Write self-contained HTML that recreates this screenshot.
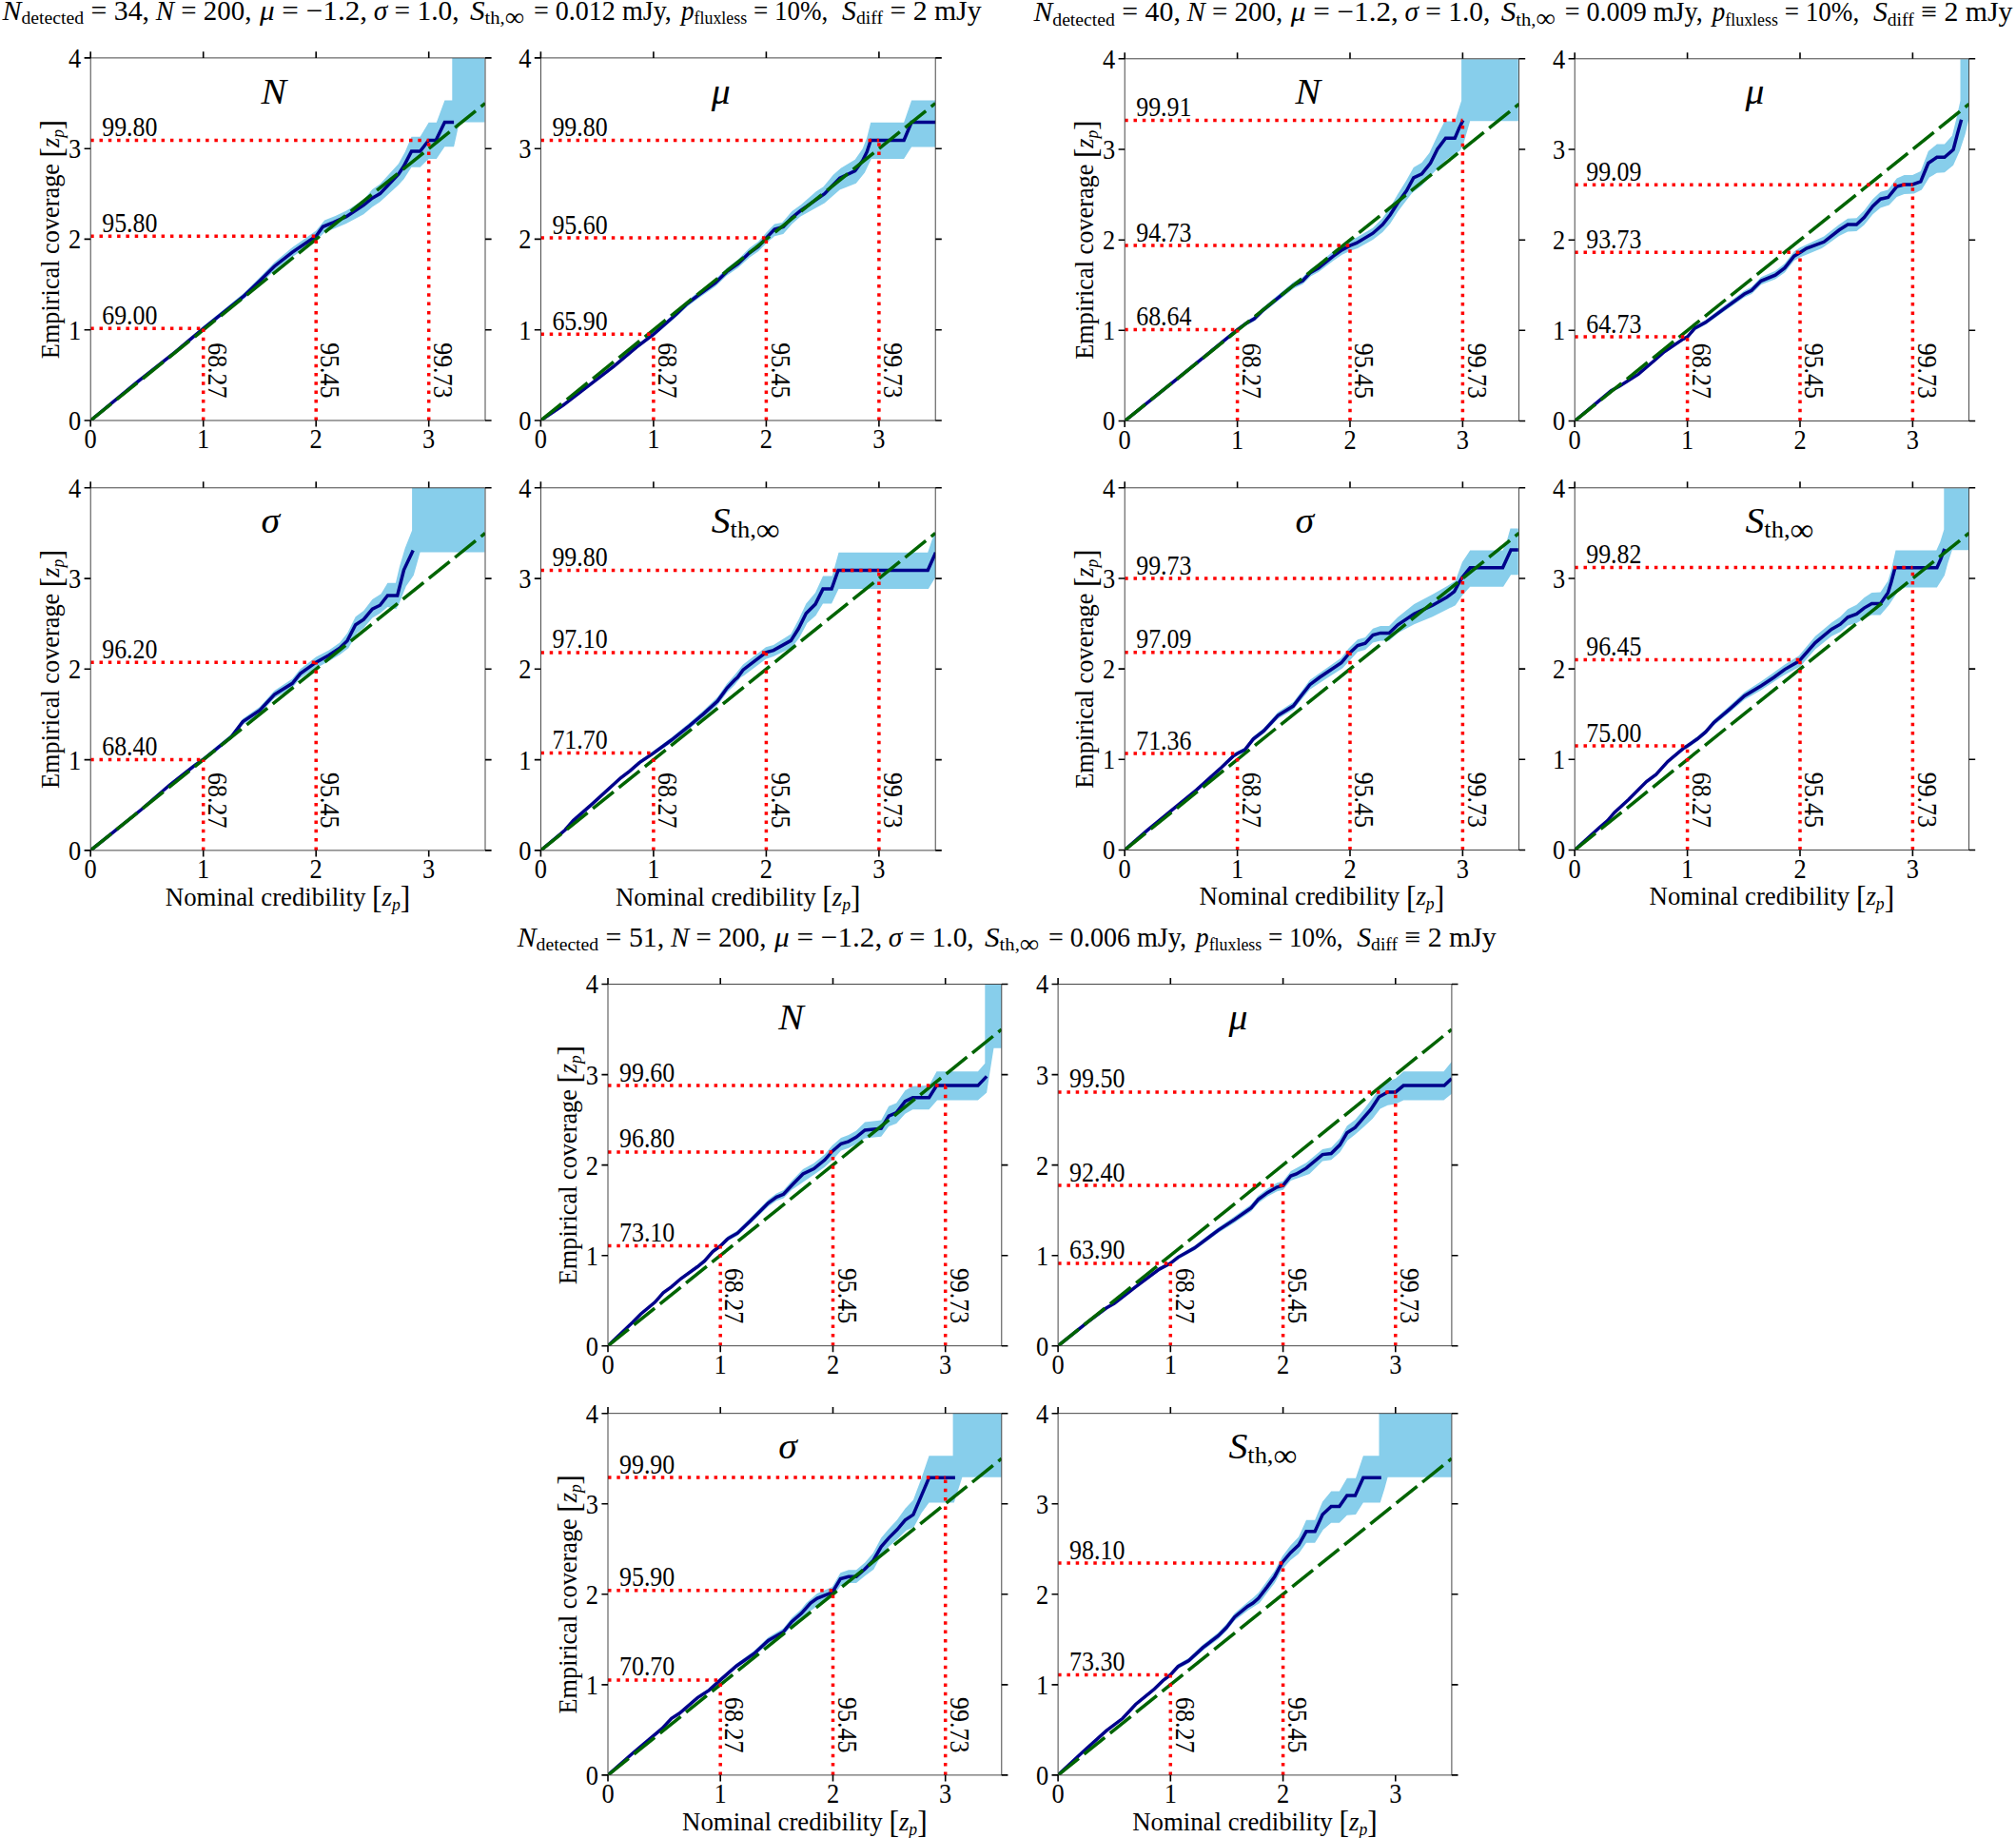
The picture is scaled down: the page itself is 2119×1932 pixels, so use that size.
<!DOCTYPE html>
<html><head><meta charset="utf-8"><title>Coverage plots</title>
<style>html,body{margin:0;padding:0;background:#fff}svg{display:block}text{font-family:"Liberation Serif", "DejaVu Serif", serif;fill:#000}.tk{font-size:29.3px}.an{font-size:28.8px}.ax{font-size:28px}.pt{font-size:37.5px}.tt{font-size:29.5px}.br{font-size:118%}.sb2{font-size:25px}.inf{font-size:33px}.i{font-style:italic}.sb{font-size:66%}.band{fill:#87CEEB;stroke:none}.bl{fill:none;stroke:#00008B;stroke-width:3.5;stroke-linejoin:miter}.gd{fill:none;stroke:#006400;stroke-width:3.5;stroke-dasharray:28 7.1}.rd{fill:none;stroke:#FF0000;stroke-width:3.5;stroke-dasharray:3.5 5.8}.sp{fill:none;stroke:#333;stroke-width:0.9}.t{stroke:#000;stroke-width:1.6}</style></head><body>
<svg width="2119" height="1932" viewBox="0 0 2119 1932">
<rect width="2119" height="1932" fill="#fff"/>
<g><text class="tt" x="2.6" y="20.8" textLength="154.5" lengthAdjust="spacingAndGlyphs" xml:space="preserve"><tspan class="i">N</tspan><tspan class="sb" dy="4.6">detected</tspan><tspan dy="-4.6"> = 34,</tspan></text><text class="tt" x="163.8" y="20.8" textLength="100.6" lengthAdjust="spacingAndGlyphs" xml:space="preserve"><tspan class="i">N</tspan> = 200,</text><text class="tt" x="272.9" y="20.8" textLength="113.2" lengthAdjust="spacingAndGlyphs" xml:space="preserve"><tspan class="i">μ</tspan> = −1.2,</text><text class="tt" x="392.7" y="20.8" textLength="89.9" lengthAdjust="spacingAndGlyphs" xml:space="preserve"><tspan class="i">σ</tspan> = 1.0,</text><text class="tt" x="493.9" y="20.8" textLength="57.2" lengthAdjust="spacingAndGlyphs" xml:space="preserve"><tspan class="i">S</tspan><tspan class="sb" dy="4.6">th,</tspan><tspan style="font-size:27px" dy="1.5">∞</tspan></text><text class="tt" x="560.9" y="20.8" textLength="145" lengthAdjust="spacingAndGlyphs" xml:space="preserve">= 0.012 mJy,</text><text class="tt" x="716" y="20.8" textLength="154.4" lengthAdjust="spacingAndGlyphs" xml:space="preserve"><tspan class="i">p</tspan><tspan class="sb" dy="4.6">fluxless</tspan><tspan dy="-4.6"> = 10%,</tspan></text><text class="tt" x="885.1" y="20.8" textLength="146.5" lengthAdjust="spacingAndGlyphs" xml:space="preserve"><tspan class="i">S</tspan><tspan class="sb" dy="4.6">diff</tspan><tspan dy="-4.6"> = 2 mJy</tspan></text></g>
<g><text class="tt" x="1086.4" y="22" textLength="154.5" lengthAdjust="spacingAndGlyphs" xml:space="preserve"><tspan class="i">N</tspan><tspan class="sb" dy="4.6">detected</tspan><tspan dy="-4.6"> = 40,</tspan></text><text class="tt" x="1247.6" y="22" textLength="100.6" lengthAdjust="spacingAndGlyphs" xml:space="preserve"><tspan class="i">N</tspan> = 200,</text><text class="tt" x="1356.7" y="22" textLength="113.2" lengthAdjust="spacingAndGlyphs" xml:space="preserve"><tspan class="i">μ</tspan> = −1.2,</text><text class="tt" x="1476.5" y="22" textLength="89.9" lengthAdjust="spacingAndGlyphs" xml:space="preserve"><tspan class="i">σ</tspan> = 1.0,</text><text class="tt" x="1577.7" y="22" textLength="57.2" lengthAdjust="spacingAndGlyphs" xml:space="preserve"><tspan class="i">S</tspan><tspan class="sb" dy="4.6">th,</tspan><tspan style="font-size:27px" dy="1.5">∞</tspan></text><text class="tt" x="1644.7" y="22" textLength="145" lengthAdjust="spacingAndGlyphs" xml:space="preserve">= 0.009 mJy,</text><text class="tt" x="1799.8" y="22" textLength="154.4" lengthAdjust="spacingAndGlyphs" xml:space="preserve"><tspan class="i">p</tspan><tspan class="sb" dy="4.6">fluxless</tspan><tspan dy="-4.6"> = 10%,</tspan></text><text class="tt" x="1968.9" y="22" textLength="146.5" lengthAdjust="spacingAndGlyphs" xml:space="preserve"><tspan class="i">S</tspan><tspan class="sb" dy="4.6">diff</tspan><tspan dy="-4.6"> ≡ 2 mJy</tspan></text></g>
<g><text class="tt" x="543.7" y="994.5" textLength="154.5" lengthAdjust="spacingAndGlyphs" xml:space="preserve"><tspan class="i">N</tspan><tspan class="sb" dy="4.6">detected</tspan><tspan dy="-4.6"> = 51,</tspan></text><text class="tt" x="704.9" y="994.5" textLength="100.6" lengthAdjust="spacingAndGlyphs" xml:space="preserve"><tspan class="i">N</tspan> = 200,</text><text class="tt" x="814" y="994.5" textLength="113.2" lengthAdjust="spacingAndGlyphs" xml:space="preserve"><tspan class="i">μ</tspan> = −1.2,</text><text class="tt" x="933.8" y="994.5" textLength="89.9" lengthAdjust="spacingAndGlyphs" xml:space="preserve"><tspan class="i">σ</tspan> = 1.0,</text><text class="tt" x="1035" y="994.5" textLength="57.2" lengthAdjust="spacingAndGlyphs" xml:space="preserve"><tspan class="i">S</tspan><tspan class="sb" dy="4.6">th,</tspan><tspan style="font-size:27px" dy="1.5">∞</tspan></text><text class="tt" x="1102" y="994.5" textLength="145" lengthAdjust="spacingAndGlyphs" xml:space="preserve">= 0.006 mJy,</text><text class="tt" x="1257.1" y="994.5" textLength="154.4" lengthAdjust="spacingAndGlyphs" xml:space="preserve"><tspan class="i">p</tspan><tspan class="sb" dy="4.6">fluxless</tspan><tspan dy="-4.6"> = 10%,</tspan></text><text class="tt" x="1426.2" y="994.5" textLength="146.5" lengthAdjust="spacingAndGlyphs" xml:space="preserve"><tspan class="i">S</tspan><tspan class="sb" dy="4.6">diff</tspan><tspan dy="-4.6"> ≡ 2 mJy</tspan></text></g>
<g id="p1">
<clipPath id="c1"><rect x="95.2" y="60.9" width="414.8" height="381.1"/></clipPath>
<g clip-path="url(#c1)">
<polygon class="band" points="95.2,442 142.6,401.9 184.1,368.6 199.5,355.3 213.7,343.1 256.4,308 273,291.6 288.4,275.7 307.3,260.1 332.2,242.6 341.1,231.6 352.5,227.1 364,221.4 382.2,209.9 391.4,199.1 399.4,193.4 418.8,172.2 425.7,159.7 432.5,143.7 441.6,143.7 450.6,128.8 458.8,128.8 467.4,105.6 475.3,105.6 475.3,60.9 509.4,60.9 509.4,128.5 482.8,128.5 477.1,154.2 467.4,154.2 458.8,167.1 450.6,167.1 441.6,175.7 432.5,175.7 424.5,188.2 418.8,194.5 399.4,212.2 391.4,217.4 382.2,225.3 364,235.1 350.3,240.8 341.1,244.2 334.3,251.1 332.2,253.8 307.3,270 288.4,284.4 273,299 256.4,314.2 213.7,347.5 199.5,359.1 184.1,371.6 142.6,403.9 95.2,442"/>
<polyline class="bl" points="95.2,442 142.6,402.9 184.1,370.1 199.5,357.2 213.7,345.3 256.4,311.1 273,295.3 288.4,280 307.3,265.1 332.2,248.2 339.4,238.3 350.3,233.9 364,227.6 382.2,215.6 391.4,208.2 399.4,203.6 418.8,183.1 424.5,174.5 432.5,159.1 441.6,159.1 450.6,147.4 458.2,147.4 467.4,128.5 477.1,128.5"/>
<path class="gd" d="M95.2 442L510 108.5"/>
<path class="rd" d="M95.2 345.3H213.7M213.7 442V345.3"/>
<path class="rd" d="M95.2 248.3H332.2M332.2 442V248.3"/>
<path class="rd" d="M95.2 147.6H450.7M450.7 442V147.6"/>
</g>
<rect class="sp" x="95.2" y="60.9" width="414.8" height="381.1"/>
<path class="t" d="M95.2 442v6.6M95.2 60.9v-6.6M213.7 442v6.6M213.7 60.9v-6.6M332.2 442v6.6M332.2 60.9v-6.6M450.7 442v6.6M450.7 60.9v-6.6M95.2 442h-6.6M510 442h6.6M95.2 346.7h-6.6M510 346.7h6.6M95.2 251.4h-6.6M510 251.4h6.6M95.2 156.2h-6.6M510 156.2h6.6M95.2 60.9h-6.6M510 60.9h6.6"/>
<text class="tk" text-anchor="middle" transform="translate(95.2 471.2) scale(0.9 1)">0</text>
<text class="tk" text-anchor="middle" transform="translate(213.7 471.2) scale(0.9 1)">1</text>
<text class="tk" text-anchor="middle" transform="translate(332.2 471.2) scale(0.9 1)">2</text>
<text class="tk" text-anchor="middle" transform="translate(450.7 471.2) scale(0.9 1)">3</text>
<text class="tk" text-anchor="end" transform="translate(85.2 451.9) scale(0.9 1)">0</text>
<text class="tk" text-anchor="end" transform="translate(85.2 356.6) scale(0.9 1)">1</text>
<text class="tk" text-anchor="end" transform="translate(85.2 261.3) scale(0.9 1)">2</text>
<text class="tk" text-anchor="end" transform="translate(85.2 166.1) scale(0.9 1)">3</text>
<text class="tk" text-anchor="end" transform="translate(85.2 70.8) scale(0.9 1)">4</text>
<text class="an" transform="translate(107.2 340.8) scale(0.9 1)">69.00</text>
<text class="an" transform="translate(218.9 360.2) rotate(90) scale(0.9 1)">68.27</text>
<text class="an" transform="translate(107.2 243.8) scale(0.9 1)">95.80</text>
<text class="an" transform="translate(337.4 360.2) rotate(90) scale(0.9 1)">95.45</text>
<text class="an" transform="translate(107.2 143.1) scale(0.9 1)">99.80</text>
<text class="an" transform="translate(455.9 360.2) rotate(90) scale(0.9 1)">99.73</text>
<text class="pt i" transform="translate(274.5 108.5) scale(1.06 1)">N</text>
<text class="ax" text-anchor="middle" textLength="251.4" lengthAdjust="spacingAndGlyphs" transform="translate(62.2 251.5) rotate(-90)">Empirical coverage <tspan class="br" dy="2.6">[</tspan><tspan class="i" dy="-2.6">z</tspan><tspan class="i sb" dy="5">p</tspan><tspan class="br" dy="-2.4">]</tspan></text>
</g>
<g id="p2">
<clipPath id="c2"><rect x="568.4" y="60.9" width="414.8" height="381.1"/></clipPath>
<g clip-path="url(#c2)">
<polygon class="band" points="568.4,442 592.1,425.1 615.8,406.5 645.4,383.3 669.1,363 686.9,349.1 710.6,327.8 722.5,316 734.3,306.6 752.1,293.5 763.9,281.7 775.8,272.7 787.7,260.8 797.1,253.9 805.4,244.5 814.1,235.6 822.1,233.9 832.4,221.9 841.5,215.6 857.5,201.4 865.5,196.2 875.8,183.7 883.8,176.8 898.7,167.7 906.7,156.2 911.2,144.8 915.2,128.8 950.1,128.8 958.1,105.4 983.5,105.4 983.5,154.5 958.1,154.5 950.1,167.1 915.8,167.1 908.9,181.4 899.8,192.8 882.7,199.6 866.7,213.4 841.5,227.6 832.4,235.6 823.3,245.9 814.1,248.2 805.4,255.7 797.1,264.3 787.7,270.7 775.8,281.6 763.9,289.8 752.1,300.9 734.3,313.5 722.5,322.2 710.6,333.3 686.9,353.5 669.1,366.7 645.4,386.3 615.8,408.9 592.1,426.5 568.4,442"/>
<polyline class="bl" points="568.4,442 592.1,425.8 615.8,407.7 645.4,384.8 669.1,364.8 686.9,351.3 710.6,330.5 722.5,319.1 734.3,310 752.1,297.2 763.9,285.7 775.8,277.2 787.7,265.7 797.1,259.1 805.4,250.1 814.1,241 823.3,238.5 832.4,228.8 841.5,221.4 866.7,203.6 882.7,187.1 898.7,179.7 906.7,168.8 911.2,159.7 915.2,147.4 950.1,147.4 958.1,128.5 983.5,128.5"/>
<path class="gd" d="M568.4 442L983.2 108.5"/>
<path class="rd" d="M568.4 351.3H686.9M686.9 442V351.3"/>
<path class="rd" d="M568.4 250.1H805.4M805.4 442V250.1"/>
<path class="rd" d="M568.4 147.6H923.9M923.9 442V147.6"/>
</g>
<rect class="sp" x="568.4" y="60.9" width="414.8" height="381.1"/>
<path class="t" d="M568.4 442v6.6M568.4 60.9v-6.6M686.9 442v6.6M686.9 60.9v-6.6M805.4 442v6.6M805.4 60.9v-6.6M923.9 442v6.6M923.9 60.9v-6.6M568.4 442h-6.6M983.2 442h6.6M568.4 346.7h-6.6M983.2 346.7h6.6M568.4 251.4h-6.6M983.2 251.4h6.6M568.4 156.2h-6.6M983.2 156.2h6.6M568.4 60.9h-6.6M983.2 60.9h6.6"/>
<text class="tk" text-anchor="middle" transform="translate(568.4 471.2) scale(0.9 1)">0</text>
<text class="tk" text-anchor="middle" transform="translate(686.9 471.2) scale(0.9 1)">1</text>
<text class="tk" text-anchor="middle" transform="translate(805.4 471.2) scale(0.9 1)">2</text>
<text class="tk" text-anchor="middle" transform="translate(923.9 471.2) scale(0.9 1)">3</text>
<text class="tk" text-anchor="end" transform="translate(558.4 451.9) scale(0.9 1)">0</text>
<text class="tk" text-anchor="end" transform="translate(558.4 356.6) scale(0.9 1)">1</text>
<text class="tk" text-anchor="end" transform="translate(558.4 261.3) scale(0.9 1)">2</text>
<text class="tk" text-anchor="end" transform="translate(558.4 166.1) scale(0.9 1)">3</text>
<text class="tk" text-anchor="end" transform="translate(558.4 70.8) scale(0.9 1)">4</text>
<text class="an" transform="translate(580.4 346.8) scale(0.9 1)">65.90</text>
<text class="an" transform="translate(692.1 360.2) rotate(90) scale(0.9 1)">68.27</text>
<text class="an" transform="translate(580.4 245.6) scale(0.9 1)">95.60</text>
<text class="an" transform="translate(810.6 360.2) rotate(90) scale(0.9 1)">95.45</text>
<text class="an" transform="translate(580.4 143.1) scale(0.9 1)">99.80</text>
<text class="an" transform="translate(929.1 360.2) rotate(90) scale(0.9 1)">99.73</text>
<text class="pt i" transform="translate(747.7 108.5) scale(1.06 1)">μ</text>
</g>
<g id="p3">
<clipPath id="c3"><rect x="95.2" y="512.8" width="414.8" height="381.1"/></clipPath>
<g clip-path="url(#c3)">
<polygon class="band" points="95.2,893.9 118.9,874.2 148.5,849.8 178.2,823.8 195.9,809.6 204.2,802.8 213.7,796.1 243.3,771.6 255.2,755.5 273,743 288.4,725.9 307.3,713.6 315.6,703.2 332.2,690.6 345.7,683.6 357.1,675.6 365.1,665.4 373.7,648.2 382.2,641.9 391.4,629.9 400.5,624.2 407.4,612.8 415.9,612.8 419.9,595.7 425.7,576.3 433.1,557.4 433.1,512.6 509.4,512.6 509.4,580.5 441.6,580.5 434.8,604.8 426.8,616.2 419.9,633.4 416.5,640.2 407.4,637.9 399.4,644.8 391.4,649.4 382.2,660.2 375.4,665.4 366.3,681.3 357.1,688.2 345.7,695.1 334.3,701.3 332.2,701.8 315.6,713.1 307.3,723 288.4,734.1 273,750.4 255.2,761.7 243.3,777.1 213.7,800.6 204.2,806.8 195.9,813.3 178.2,826.8 148.5,852.3 118.9,875.5 95.2,893.9"/>
<polyline class="bl" points="95.2,893.9 118.9,874.8 148.5,851 178.2,825.3 195.9,811.5 204.2,804.8 213.7,798.3 243.3,774.3 255.2,758.6 273,746.7 288.4,730 307.3,718.3 315.6,708.1 332.2,696.2 345.7,688.8 357.1,681.3 365.1,673.4 373.7,656.8 382.2,651.1 391.4,640.2 399.4,636.2 407.4,625.9 417.7,625.9 424.5,599.1 434.2,578.5"/>
<path class="gd" d="M95.2 893.9L510 560.4"/>
<path class="rd" d="M95.2 798.4H213.7M213.7 893.9V798.4"/>
<path class="rd" d="M95.2 696.2H332.2M332.2 893.9V696.2"/>
</g>
<rect class="sp" x="95.2" y="512.8" width="414.8" height="381.1"/>
<path class="t" d="M95.2 893.9v6.6M95.2 512.8v-6.6M213.7 893.9v6.6M213.7 512.8v-6.6M332.2 893.9v6.6M332.2 512.8v-6.6M450.7 893.9v6.6M450.7 512.8v-6.6M95.2 893.9h-6.6M510 893.9h6.6M95.2 798.6h-6.6M510 798.6h6.6M95.2 703.3h-6.6M510 703.3h6.6M95.2 608.1h-6.6M510 608.1h6.6M95.2 512.8h-6.6M510 512.8h6.6"/>
<text class="tk" text-anchor="middle" transform="translate(95.2 923.1) scale(0.9 1)">0</text>
<text class="tk" text-anchor="middle" transform="translate(213.7 923.1) scale(0.9 1)">1</text>
<text class="tk" text-anchor="middle" transform="translate(332.2 923.1) scale(0.9 1)">2</text>
<text class="tk" text-anchor="middle" transform="translate(450.7 923.1) scale(0.9 1)">3</text>
<text class="tk" text-anchor="end" transform="translate(85.2 903.8) scale(0.9 1)">0</text>
<text class="tk" text-anchor="end" transform="translate(85.2 808.5) scale(0.9 1)">1</text>
<text class="tk" text-anchor="end" transform="translate(85.2 713.2) scale(0.9 1)">2</text>
<text class="tk" text-anchor="end" transform="translate(85.2 618) scale(0.9 1)">3</text>
<text class="tk" text-anchor="end" transform="translate(85.2 522.7) scale(0.9 1)">4</text>
<text class="an" transform="translate(107.2 793.9) scale(0.9 1)">68.40</text>
<text class="an" transform="translate(218.9 812.1) rotate(90) scale(0.9 1)">68.27</text>
<text class="an" transform="translate(107.2 691.7) scale(0.9 1)">96.20</text>
<text class="an" transform="translate(337.4 812.1) rotate(90) scale(0.9 1)">95.45</text>
<text class="pt i" transform="translate(274.5 560.4) scale(1.06 1)">σ</text>
<text class="ax" text-anchor="middle" textLength="251.4" lengthAdjust="spacingAndGlyphs" transform="translate(62.2 703.3) rotate(-90)">Empirical coverage <tspan class="br" dy="2.6">[</tspan><tspan class="i" dy="-2.6">z</tspan><tspan class="i sb" dy="5">p</tspan><tspan class="br" dy="-2.4">]</tspan></text>
<text class="ax" text-anchor="middle" textLength="257.6" lengthAdjust="spacingAndGlyphs" x="302.6" y="951.5">Nominal credibility <tspan class="br" dy="2.6">[</tspan><tspan class="i" dy="-2.6">z</tspan><tspan class="i sb" dy="5">p</tspan><tspan class="br" dy="-2.4">]</tspan></text>
</g>
<g id="p4">
<clipPath id="c4"><rect x="568.4" y="512.8" width="414.8" height="381.1"/></clipPath>
<g clip-path="url(#c4)">
<polygon class="band" points="568.4,893.9 593.9,871.7 602.5,861.6 622.4,843.9 652.3,816 662.1,808.5 672.1,799.6 686.9,789.3 705.6,775.2 724.4,759.9 739.2,746.9 754.1,732.8 764.1,718.6 772.2,709.6 781,698.5 805,680.2 813,677.9 831.3,666.5 839.3,651.6 847.3,634.5 857,623.1 865,605.4 874.7,605.4 881.5,580.8 975.2,580.8 979.8,567.1 983.5,559.1 983.5,606.5 975.8,619.1 881.5,619.1 874.1,634.5 865,634.5 857.5,647.1 848.4,655.1 840.4,669.9 832.4,680.8 813,689.9 805,692.8 782.1,709.9 778.7,712 772.2,720 764.1,728 754.1,741.2 739.2,754.3 724.4,766.3 705.6,780.7 686.9,793.8 672.1,803.6 662.1,812.2 652.3,819.5 622.4,846.4 602.5,863.5 593.9,873.2 568.4,893.9"/>
<polyline class="bl" points="568.4,893.9 593.9,872.5 602.5,862.6 622.4,845.1 652.3,817.8 662.1,810.3 672.1,801.6 686.9,791.6 705.6,778 724.4,763.1 739.2,750.6 754.1,737 764.1,723.3 772.2,714.8 775.3,712 781,704.2 805,685.9 813,683.6 831.3,673.4 839.3,660.8 847.3,644.8 857,635.1 865,619.1 874.1,619.1 881,599.4 975.2,599.4 983.5,580.8"/>
<path class="gd" d="M568.4 893.9L983.2 560.4"/>
<path class="rd" d="M568.4 791.6H686.9M686.9 893.9V791.6"/>
<path class="rd" d="M568.4 685.9H805.4M805.4 893.9V685.9"/>
<path class="rd" d="M568.4 599.5H923.9M923.9 893.9V599.5"/>
</g>
<rect class="sp" x="568.4" y="512.8" width="414.8" height="381.1"/>
<path class="t" d="M568.4 893.9v6.6M568.4 512.8v-6.6M686.9 893.9v6.6M686.9 512.8v-6.6M805.4 893.9v6.6M805.4 512.8v-6.6M923.9 893.9v6.6M923.9 512.8v-6.6M568.4 893.9h-6.6M983.2 893.9h6.6M568.4 798.6h-6.6M983.2 798.6h6.6M568.4 703.3h-6.6M983.2 703.3h6.6M568.4 608.1h-6.6M983.2 608.1h6.6M568.4 512.8h-6.6M983.2 512.8h6.6"/>
<text class="tk" text-anchor="middle" transform="translate(568.4 923.1) scale(0.9 1)">0</text>
<text class="tk" text-anchor="middle" transform="translate(686.9 923.1) scale(0.9 1)">1</text>
<text class="tk" text-anchor="middle" transform="translate(805.4 923.1) scale(0.9 1)">2</text>
<text class="tk" text-anchor="middle" transform="translate(923.9 923.1) scale(0.9 1)">3</text>
<text class="tk" text-anchor="end" transform="translate(558.4 903.8) scale(0.9 1)">0</text>
<text class="tk" text-anchor="end" transform="translate(558.4 808.5) scale(0.9 1)">1</text>
<text class="tk" text-anchor="end" transform="translate(558.4 713.2) scale(0.9 1)">2</text>
<text class="tk" text-anchor="end" transform="translate(558.4 618) scale(0.9 1)">3</text>
<text class="tk" text-anchor="end" transform="translate(558.4 522.7) scale(0.9 1)">4</text>
<text class="an" transform="translate(580.4 787.1) scale(0.9 1)">71.70</text>
<text class="an" transform="translate(692.1 812.1) rotate(90) scale(0.9 1)">68.27</text>
<text class="an" transform="translate(580.4 681.4) scale(0.9 1)">97.10</text>
<text class="an" transform="translate(810.6 812.1) rotate(90) scale(0.9 1)">95.45</text>
<text class="an" transform="translate(580.4 595) scale(0.9 1)">99.80</text>
<text class="an" transform="translate(929.1 812.1) rotate(90) scale(0.9 1)">99.73</text>
<text class="pt" transform="translate(747.7 560.4) scale(1.06 1)"><tspan class="i">S</tspan><tspan class="sb2" dy="4.8">th,</tspan><tspan class="inf" dy="2.5">∞</tspan></text>
<text class="ax" text-anchor="middle" textLength="257.6" lengthAdjust="spacingAndGlyphs" x="775.8" y="951.5">Nominal credibility <tspan class="br" dy="2.6">[</tspan><tspan class="i" dy="-2.6">z</tspan><tspan class="i sb" dy="5">p</tspan><tspan class="br" dy="-2.4">]</tspan></text>
</g>
<g id="p5">
<clipPath id="c5"><rect x="1182.2" y="61.8" width="414.4" height="380.7"/></clipPath>
<g clip-path="url(#c5)">
<polygon class="band" points="1182.2,442.5 1241.4,393.9 1300.6,344.6 1310.1,337.5 1318.4,332.5 1326.6,324.1 1359.8,296.3 1369.3,291.3 1377.6,282.5 1385.8,277.3 1401.2,264.3 1410.7,257.4 1419,252.6 1425.8,249.8 1443,239.5 1453.3,229.2 1461.3,217.8 1469.2,204.1 1478.4,189.2 1485.8,176.1 1494.4,170.9 1502.4,160.7 1510.9,142.4 1518.4,127.5 1529.2,127.5 1536.1,105.8 1536.1,62.2 1595.8,62.2 1595.8,127.2 1545.2,127.2 1537.8,152.7 1534.4,158.4 1520.7,167.5 1505.8,182.4 1494.4,194.9 1484.1,202.9 1469.2,222.4 1461.3,234.9 1453.3,244.1 1443,252.1 1432.7,257.8 1427,261 1419,263.7 1410.7,267.8 1401.2,274.2 1385.8,286 1377.6,290.4 1369.3,298.7 1359.8,303.2 1326.6,329.6 1318.4,337.4 1310.1,341.9 1300.6,348.5 1241.4,395.9 1182.2,442.5"/>
<polyline class="bl" points="1182.2,442.5 1241.4,394.9 1300.6,346.6 1310.1,339.7 1318.4,335 1326.6,326.9 1359.8,299.7 1369.3,295 1377.6,286.4 1385.8,281.7 1401.2,269.3 1410.7,262.6 1419,258.1 1425.8,255.5 1443,245.2 1453.3,236.1 1461.3,225.8 1469.2,213.2 1478.4,200.6 1485.8,186.9 1494.4,182.9 1503.5,171.5 1510.9,156.7 1519.5,145.2 1529.2,145.2 1533.8,134.4 1537.8,126.4"/>
<path class="gd" d="M1182.2 442.5L1596.6 109.4"/>
<path class="rd" d="M1182.2 346.6H1300.6M1300.6 442.5V346.6"/>
<path class="rd" d="M1182.2 258.1H1419M1419 442.5V258.1"/>
<path class="rd" d="M1182.2 126.5H1537.4M1537.4 442.5V126.5"/>
</g>
<rect class="sp" x="1182.2" y="61.8" width="414.4" height="380.7"/>
<path class="t" d="M1182.2 442.5v6.6M1182.2 61.8v-6.6M1300.6 442.5v6.6M1300.6 61.8v-6.6M1419 442.5v6.6M1419 61.8v-6.6M1537.4 442.5v6.6M1537.4 61.8v-6.6M1182.2 442.5h-6.6M1596.6 442.5h6.6M1182.2 347.3h-6.6M1596.6 347.3h6.6M1182.2 252.2h-6.6M1596.6 252.2h6.6M1182.2 157h-6.6M1596.6 157h6.6M1182.2 61.8h-6.6M1596.6 61.8h6.6"/>
<text class="tk" text-anchor="middle" transform="translate(1182.2 471.7) scale(0.9 1)">0</text>
<text class="tk" text-anchor="middle" transform="translate(1300.6 471.7) scale(0.9 1)">1</text>
<text class="tk" text-anchor="middle" transform="translate(1419 471.7) scale(0.9 1)">2</text>
<text class="tk" text-anchor="middle" transform="translate(1537.4 471.7) scale(0.9 1)">3</text>
<text class="tk" text-anchor="end" transform="translate(1172.2 452.4) scale(0.9 1)">0</text>
<text class="tk" text-anchor="end" transform="translate(1172.2 357.2) scale(0.9 1)">1</text>
<text class="tk" text-anchor="end" transform="translate(1172.2 262.1) scale(0.9 1)">2</text>
<text class="tk" text-anchor="end" transform="translate(1172.2 166.9) scale(0.9 1)">3</text>
<text class="tk" text-anchor="end" transform="translate(1172.2 71.7) scale(0.9 1)">4</text>
<text class="an" transform="translate(1194.2 342.1) scale(0.9 1)">68.64</text>
<text class="an" transform="translate(1305.8 360.7) rotate(90) scale(0.9 1)">68.27</text>
<text class="an" transform="translate(1194.2 253.6) scale(0.9 1)">94.73</text>
<text class="an" transform="translate(1424.2 360.7) rotate(90) scale(0.9 1)">95.45</text>
<text class="an" transform="translate(1194.2 122) scale(0.9 1)">99.91</text>
<text class="an" transform="translate(1542.6 360.7) rotate(90) scale(0.9 1)">99.73</text>
<text class="pt i" transform="translate(1361.5 109.4) scale(1.06 1)">N</text>
<text class="ax" text-anchor="middle" textLength="251.4" lengthAdjust="spacingAndGlyphs" transform="translate(1149.2 252.1) rotate(-90)">Empirical coverage <tspan class="br" dy="2.6">[</tspan><tspan class="i" dy="-2.6">z</tspan><tspan class="i sb" dy="5">p</tspan><tspan class="br" dy="-2.4">]</tspan></text>
</g>
<g id="p6">
<clipPath id="c6"><rect x="1655.2" y="61.8" width="414.4" height="380.7"/></clipPath>
<g clip-path="url(#c6)">
<polygon class="band" points="1655.2,442.5 1693.4,410.1 1702.1,404.9 1722,392.2 1739.4,376.9 1749.3,368.1 1769.1,354.4 1773.6,352 1781.5,342.7 1792.8,336.3 1811.4,322.1 1833.6,305.5 1841.1,301.5 1851,291.3 1866,284.7 1875.9,277 1885.8,264.2 1892,260.2 1917.1,248.6 1933.1,236.1 1942.2,229.8 1951.4,229.2 1959.4,221.2 1968.5,209.2 1976.5,201.8 1984.5,199.5 1993.7,187.5 2001.6,184.1 2010.2,184.1 2018.8,180.1 2026.8,159 2035.9,151.5 2043.9,151.5 2051.9,142.4 2056.5,124.1 2060.5,105.8 2060.5,62.2 2069.4,62.2 2069.4,125.3 2065.6,141.2 2059.9,158.4 2053.1,173.8 2043.9,181.2 2035.9,181.8 2027.9,186.4 2019.9,199.5 2011.9,203.5 2001.6,204.1 1993.7,206.9 1985.7,215.5 1976.5,218.4 1968.5,225.2 1959.4,236.6 1951.4,242.9 1942.2,243.5 1933.1,248.1 1917.1,259.5 1914.8,261 1892,270.6 1885.8,274.1 1875.9,286.4 1866,293.4 1851,299.2 1841.1,309 1833.6,312.4 1811.4,328 1792.8,341.2 1781.5,347.2 1773.6,356.2 1769.1,358.3 1749.3,371.5 1739.4,380.2 1722,394.6 1702.1,406.8 1693.4,411.5 1655.2,442.5"/>
<polyline class="bl" points="1655.2,442.5 1693.4,410.8 1702.1,405.9 1722,393.4 1739.4,378.5 1749.3,369.8 1769.1,356.4 1773.6,354.1 1781.5,344.9 1792.8,338.8 1811.4,325.1 1833.6,309 1841.1,305.3 1851,295.3 1866,289.1 1875.9,281.7 1885.8,269.2 1892,265.4 1898.8,261 1917.1,254.3 1933.1,241.8 1942.2,236.1 1951.4,236.1 1959.4,228.6 1968.5,216.6 1976.5,209.2 1984.5,207.5 1993.7,196.1 2001.6,194 2010.2,194 2018.8,190.9 2026.8,171.5 2035.9,165.2 2043.9,165.2 2053.1,157.2 2057.6,140.1 2061.6,125.8"/>
<path class="gd" d="M1655.2 442.5L2069.6 109.4"/>
<path class="rd" d="M1655.2 354H1773.6M1773.6 442.5V354"/>
<path class="rd" d="M1655.2 265.3H1892M1892 442.5V265.3"/>
<path class="rd" d="M1655.2 194.3H2010.4M2010.4 442.5V194.3"/>
</g>
<rect class="sp" x="1655.2" y="61.8" width="414.4" height="380.7"/>
<path class="t" d="M1655.2 442.5v6.6M1655.2 61.8v-6.6M1773.6 442.5v6.6M1773.6 61.8v-6.6M1892 442.5v6.6M1892 61.8v-6.6M2010.4 442.5v6.6M2010.4 61.8v-6.6M1655.2 442.5h-6.6M2069.6 442.5h6.6M1655.2 347.3h-6.6M2069.6 347.3h6.6M1655.2 252.2h-6.6M2069.6 252.2h6.6M1655.2 157h-6.6M2069.6 157h6.6M1655.2 61.8h-6.6M2069.6 61.8h6.6"/>
<text class="tk" text-anchor="middle" transform="translate(1655.2 471.7) scale(0.9 1)">0</text>
<text class="tk" text-anchor="middle" transform="translate(1773.6 471.7) scale(0.9 1)">1</text>
<text class="tk" text-anchor="middle" transform="translate(1892 471.7) scale(0.9 1)">2</text>
<text class="tk" text-anchor="middle" transform="translate(2010.4 471.7) scale(0.9 1)">3</text>
<text class="tk" text-anchor="end" transform="translate(1645.2 452.4) scale(0.9 1)">0</text>
<text class="tk" text-anchor="end" transform="translate(1645.2 357.2) scale(0.9 1)">1</text>
<text class="tk" text-anchor="end" transform="translate(1645.2 262.1) scale(0.9 1)">2</text>
<text class="tk" text-anchor="end" transform="translate(1645.2 166.9) scale(0.9 1)">3</text>
<text class="tk" text-anchor="end" transform="translate(1645.2 71.7) scale(0.9 1)">4</text>
<text class="an" transform="translate(1667.2 349.5) scale(0.9 1)">64.73</text>
<text class="an" transform="translate(1778.8 360.7) rotate(90) scale(0.9 1)">68.27</text>
<text class="an" transform="translate(1667.2 260.8) scale(0.9 1)">93.73</text>
<text class="an" transform="translate(1897.2 360.7) rotate(90) scale(0.9 1)">95.45</text>
<text class="an" transform="translate(1667.2 189.8) scale(0.9 1)">99.09</text>
<text class="an" transform="translate(2015.6 360.7) rotate(90) scale(0.9 1)">99.73</text>
<text class="pt i" transform="translate(1834.5 109.4) scale(1.06 1)">μ</text>
</g>
<g id="p7">
<clipPath id="c7"><rect x="1182.2" y="512.8" width="414.4" height="380.7"/></clipPath>
<g clip-path="url(#c7)">
<polygon class="band" points="1182.2,893.5 1205.5,872.5 1230.4,851.6 1257.6,828.8 1283.8,804.8 1296.1,792.8 1300.6,789.8 1308.5,785.7 1317.3,774.2 1328.4,765.2 1343.3,748.5 1359.4,738.1 1368.1,726.5 1376.8,714.8 1387,707.6 1409.8,691.6 1417.8,681.3 1427,672.2 1435,669.9 1443,660.8 1451,657.9 1460.1,657.9 1469.2,648.8 1486.4,635.1 1505.8,624.8 1520.7,616.2 1529.8,610.5 1536.9,591.1 1545.2,578.5 1579.5,578.5 1583.5,569.4 1587.5,555.5 1595.8,555.5 1595.8,604.2 1588.1,604.2 1580.1,616.8 1545.2,616.8 1536.9,625.9 1529.8,636.2 1520.7,640.8 1505.8,648.2 1486.4,656.2 1469.2,665.4 1460.1,673.4 1451,673.4 1443,675.6 1435,683.1 1427,685.3 1419,693.9 1411,702.5 1396.1,712 1376.8,724.7 1368.1,735.2 1359.4,746 1343.3,755.4 1328.4,771.1 1317.3,779.4 1308.5,790.4 1300.6,794.3 1296.1,797 1283.8,808.6 1257.6,831.8 1230.4,853.8 1205.5,873.8 1182.2,893.5"/>
<polyline class="bl" points="1182.2,893.5 1205.5,873.1 1230.4,852.7 1257.6,830.3 1283.8,806.7 1296.1,794.9 1300.6,792 1308.5,788 1317.3,776.8 1328.4,768.2 1343.3,752 1359.4,742.1 1368.1,730.8 1376.8,719.7 1387,712 1409.8,696.8 1417.8,687.1 1427,678.5 1435,676.2 1443,667.6 1451,665.4 1460.1,665.4 1469.2,656.8 1486.4,645.4 1505.8,636.2 1520.7,627.7 1528.6,621.9 1532.1,615.1 1536.9,607.1 1545.2,596.8 1579.5,596.8 1588.1,578 1595.8,578"/>
<path class="gd" d="M1182.2 893.5L1596.6 560.4"/>
<path class="rd" d="M1182.2 792H1300.6M1300.6 893.5V792"/>
<path class="rd" d="M1182.2 685.8H1419M1419 893.5V685.8"/>
<path class="rd" d="M1182.2 608H1537.4M1537.4 893.5V608"/>
</g>
<rect class="sp" x="1182.2" y="512.8" width="414.4" height="380.7"/>
<path class="t" d="M1182.2 893.5v6.6M1182.2 512.8v-6.6M1300.6 893.5v6.6M1300.6 512.8v-6.6M1419 893.5v6.6M1419 512.8v-6.6M1537.4 893.5v6.6M1537.4 512.8v-6.6M1182.2 893.5h-6.6M1596.6 893.5h6.6M1182.2 798.3h-6.6M1596.6 798.3h6.6M1182.2 703.1h-6.6M1596.6 703.1h6.6M1182.2 608h-6.6M1596.6 608h6.6M1182.2 512.8h-6.6M1596.6 512.8h6.6"/>
<text class="tk" text-anchor="middle" transform="translate(1182.2 922.7) scale(0.9 1)">0</text>
<text class="tk" text-anchor="middle" transform="translate(1300.6 922.7) scale(0.9 1)">1</text>
<text class="tk" text-anchor="middle" transform="translate(1419 922.7) scale(0.9 1)">2</text>
<text class="tk" text-anchor="middle" transform="translate(1537.4 922.7) scale(0.9 1)">3</text>
<text class="tk" text-anchor="end" transform="translate(1172.2 903.4) scale(0.9 1)">0</text>
<text class="tk" text-anchor="end" transform="translate(1172.2 808.2) scale(0.9 1)">1</text>
<text class="tk" text-anchor="end" transform="translate(1172.2 713) scale(0.9 1)">2</text>
<text class="tk" text-anchor="end" transform="translate(1172.2 617.9) scale(0.9 1)">3</text>
<text class="tk" text-anchor="end" transform="translate(1172.2 522.7) scale(0.9 1)">4</text>
<text class="an" transform="translate(1194.2 787.5) scale(0.9 1)">71.36</text>
<text class="an" transform="translate(1305.8 811.7) rotate(90) scale(0.9 1)">68.27</text>
<text class="an" transform="translate(1194.2 681.3) scale(0.9 1)">97.09</text>
<text class="an" transform="translate(1424.2 811.7) rotate(90) scale(0.9 1)">95.45</text>
<text class="an" transform="translate(1194.2 603.5) scale(0.9 1)">99.73</text>
<text class="an" transform="translate(1542.6 811.7) rotate(90) scale(0.9 1)">99.73</text>
<text class="pt i" transform="translate(1361.5 560.4) scale(1.06 1)">σ</text>
<text class="ax" text-anchor="middle" textLength="251.4" lengthAdjust="spacingAndGlyphs" transform="translate(1149.2 703.1) rotate(-90)">Empirical coverage <tspan class="br" dy="2.6">[</tspan><tspan class="i" dy="-2.6">z</tspan><tspan class="i sb" dy="5">p</tspan><tspan class="br" dy="-2.4">]</tspan></text>
<text class="ax" text-anchor="middle" textLength="257.6" lengthAdjust="spacingAndGlyphs" x="1389.4" y="951.1">Nominal credibility <tspan class="br" dy="2.6">[</tspan><tspan class="i" dy="-2.6">z</tspan><tspan class="i sb" dy="5">p</tspan><tspan class="br" dy="-2.4">]</tspan></text>
</g>
<g id="p8">
<clipPath id="c8"><rect x="1655.2" y="512.8" width="414.4" height="380.7"/></clipPath>
<g clip-path="url(#c8)">
<polygon class="band" points="1655.2,893.5 1681,869.2 1689.7,861.7 1697.1,852.9 1712,839 1730.6,819.9 1740.6,812.4 1753,798.4 1769.1,784.6 1773.6,781.7 1784,774.3 1792.8,766.7 1801.4,756.5 1817.5,742.3 1833.6,727.6 1851,716.2 1860,709.9 1876,698.5 1890.8,689.3 1908,668.8 1925.1,654.5 1934.3,648.2 1942.2,640.2 1951.4,635.7 1959.4,628.2 1967.4,623.1 1976.5,622.5 1984.5,610.5 1987.9,599.1 1992.5,578.5 2035.3,578.5 2039.3,569.4 2043.3,556.8 2043.3,513.2 2069.4,513.2 2069.4,578.2 2051.9,578.2 2047.3,592.2 2043.9,604.8 2035.9,617.4 2002.2,617.4 1994.8,621.9 1985.7,635.7 1976.5,646.5 1967.4,646.5 1959.4,649.9 1951.4,655.1 1942.2,657.4 1934.3,664.2 1925.1,668.8 1908,682.5 1892,700.8 1876,709.3 1871.4,712 1851,725.6 1833.6,735.5 1817.5,749.3 1801.4,762.5 1792.8,772.1 1784,779.3 1773.6,786.4 1769.1,789 1753,802.4 1740.6,815.9 1730.6,823.2 1712,841.4 1697.1,854.9 1689.7,863.4 1681,870.7 1655.2,893.5"/>
<polyline class="bl" points="1655.2,893.5 1681,870 1689.7,862.6 1697.1,853.9 1712,840.2 1730.6,821.5 1740.6,814.1 1753,800.4 1769.1,786.8 1773.6,784 1784,776.8 1792.8,769.4 1801.4,759.5 1817.5,745.8 1833.6,731.5 1851,720.9 1864.6,712 1876,703.6 1890.8,695.1 1908,675.6 1925.1,661.4 1934.3,656.2 1942.2,648.8 1951.4,645.4 1959.4,639.1 1967.4,634.5 1976.5,634.5 1984.5,623.1 1987.9,611.7 1991.9,596.8 2035.9,596.8 2039.9,587.7 2043.9,576.8"/>
<path class="gd" d="M1655.2 893.5L2069.6 560.4"/>
<path class="rd" d="M1655.2 784H1773.6M1773.6 893.5V784"/>
<path class="rd" d="M1655.2 693.4H1892M1892 893.5V693.4"/>
<path class="rd" d="M1655.2 596.4H2010.4M2010.4 893.5V596.4"/>
</g>
<rect class="sp" x="1655.2" y="512.8" width="414.4" height="380.7"/>
<path class="t" d="M1655.2 893.5v6.6M1655.2 512.8v-6.6M1773.6 893.5v6.6M1773.6 512.8v-6.6M1892 893.5v6.6M1892 512.8v-6.6M2010.4 893.5v6.6M2010.4 512.8v-6.6M1655.2 893.5h-6.6M2069.6 893.5h6.6M1655.2 798.3h-6.6M2069.6 798.3h6.6M1655.2 703.1h-6.6M2069.6 703.1h6.6M1655.2 608h-6.6M2069.6 608h6.6M1655.2 512.8h-6.6M2069.6 512.8h6.6"/>
<text class="tk" text-anchor="middle" transform="translate(1655.2 922.7) scale(0.9 1)">0</text>
<text class="tk" text-anchor="middle" transform="translate(1773.6 922.7) scale(0.9 1)">1</text>
<text class="tk" text-anchor="middle" transform="translate(1892 922.7) scale(0.9 1)">2</text>
<text class="tk" text-anchor="middle" transform="translate(2010.4 922.7) scale(0.9 1)">3</text>
<text class="tk" text-anchor="end" transform="translate(1645.2 903.4) scale(0.9 1)">0</text>
<text class="tk" text-anchor="end" transform="translate(1645.2 808.2) scale(0.9 1)">1</text>
<text class="tk" text-anchor="end" transform="translate(1645.2 713) scale(0.9 1)">2</text>
<text class="tk" text-anchor="end" transform="translate(1645.2 617.9) scale(0.9 1)">3</text>
<text class="tk" text-anchor="end" transform="translate(1645.2 522.7) scale(0.9 1)">4</text>
<text class="an" transform="translate(1667.2 779.5) scale(0.9 1)">75.00</text>
<text class="an" transform="translate(1778.8 811.7) rotate(90) scale(0.9 1)">68.27</text>
<text class="an" transform="translate(1667.2 688.9) scale(0.9 1)">96.45</text>
<text class="an" transform="translate(1897.2 811.7) rotate(90) scale(0.9 1)">95.45</text>
<text class="an" transform="translate(1667.2 591.9) scale(0.9 1)">99.82</text>
<text class="an" transform="translate(2015.6 811.7) rotate(90) scale(0.9 1)">99.73</text>
<text class="pt" transform="translate(1834.5 560.4) scale(1.06 1)"><tspan class="i">S</tspan><tspan class="sb2" dy="4.8">th,</tspan><tspan class="inf" dy="2.5">∞</tspan></text>
<text class="ax" text-anchor="middle" textLength="257.6" lengthAdjust="spacingAndGlyphs" x="1862.4" y="951.1">Nominal credibility <tspan class="br" dy="2.6">[</tspan><tspan class="i" dy="-2.6">z</tspan><tspan class="i sb" dy="5">p</tspan><tspan class="br" dy="-2.4">]</tspan></text>
</g>
<g id="p9">
<clipPath id="c9"><rect x="639" y="1034.5" width="413.8" height="380.2"/></clipPath>
<g clip-path="url(#c9)">
<polygon class="band" points="639,1414.7 664.9,1389.2 673.5,1380.4 688.4,1367.7 697.2,1357.7 705.8,1351.1 715.7,1342.4 733.1,1329.7 740.6,1323.4 749.2,1313.4 757.2,1307.4 765.3,1299.3 775.2,1293.5 788.8,1280.1 807.5,1260.9 816.1,1254.4 823.6,1251.1 832.2,1241.3 844,1229 855.4,1222.8 866.8,1213.6 874.8,1203.9 884,1195.9 892,1193.1 900,1188.5 909.1,1179.4 926.2,1177.6 934.2,1162.8 942.2,1159.4 951.4,1146.2 959.4,1141.7 976.5,1141.1 984.5,1126.2 1027.9,1126.2 1035.3,1117.7 1035.3,1034.5 1052.8,1034.5 1052.8,1101.7 1044.5,1101.7 1040.5,1126.8 1037.1,1148.5 1027.9,1156.5 985.1,1156.5 976.5,1166.2 959.4,1166.2 951.4,1170.8 942.2,1181.1 934.2,1183.9 926.2,1194.8 909.1,1196.5 900,1202.8 892,1206.8 884,1209.6 876,1218.2 866.8,1226.8 856.6,1234 832.2,1250.7 823.6,1259.5 816.1,1262.3 807.5,1268.3 788.8,1286.2 775.2,1298.9 765.3,1304.3 757.2,1311.9 749.2,1317.6 740.6,1327.3 733.1,1333.4 715.7,1345.6 705.8,1354.1 697.2,1360.1 688.4,1369.9 673.5,1382.1 664.9,1390.6 639,1414.7"/>
<polyline class="bl" points="639,1414.7 664.9,1389.9 673.5,1381.2 688.4,1368.8 697.2,1358.9 705.8,1352.6 715.7,1344 733.1,1331.5 740.6,1325.4 749.2,1315.5 757.2,1309.7 765.3,1301.8 775.2,1296.2 788.8,1283.2 807.5,1264.6 816.1,1258.3 823.6,1255.3 832.2,1246 844,1234 855.4,1228.5 866.8,1219.3 874.8,1210.2 884,1202.2 892,1199.9 900,1195.4 909.1,1187.9 926.2,1186.2 934.2,1173.1 942.2,1169.6 951.4,1157.7 959.4,1153.7 976.5,1153.7 984.5,1141.1 1027.9,1141.1 1037.1,1131.4"/>
<path class="gd" d="M639 1414.7L1052.8 1082"/>
<path class="rd" d="M639 1309.6H757.2M757.2 1414.7V1309.6"/>
<path class="rd" d="M639 1210.9H875.5M875.5 1414.7V1210.9"/>
<path class="rd" d="M639 1141.1H993.7M993.7 1414.7V1141.1"/>
</g>
<rect class="sp" x="639" y="1034.5" width="413.8" height="380.2"/>
<path class="t" d="M639 1414.7v6.6M639 1034.5v-6.6M757.2 1414.7v6.6M757.2 1034.5v-6.6M875.5 1414.7v6.6M875.5 1034.5v-6.6M993.7 1414.7v6.6M993.7 1034.5v-6.6M639 1414.7h-6.6M1052.8 1414.7h6.6M639 1319.7h-6.6M1052.8 1319.7h6.6M639 1224.6h-6.6M1052.8 1224.6h6.6M639 1129.6h-6.6M1052.8 1129.6h6.6M639 1034.5h-6.6M1052.8 1034.5h6.6"/>
<text class="tk" text-anchor="middle" transform="translate(639 1443.9) scale(0.9 1)">0</text>
<text class="tk" text-anchor="middle" transform="translate(757.2 1443.9) scale(0.9 1)">1</text>
<text class="tk" text-anchor="middle" transform="translate(875.5 1443.9) scale(0.9 1)">2</text>
<text class="tk" text-anchor="middle" transform="translate(993.7 1443.9) scale(0.9 1)">3</text>
<text class="tk" text-anchor="end" transform="translate(629 1424.6) scale(0.9 1)">0</text>
<text class="tk" text-anchor="end" transform="translate(629 1329.6) scale(0.9 1)">1</text>
<text class="tk" text-anchor="end" transform="translate(629 1234.5) scale(0.9 1)">2</text>
<text class="tk" text-anchor="end" transform="translate(629 1139.5) scale(0.9 1)">3</text>
<text class="tk" text-anchor="end" transform="translate(629 1044.4) scale(0.9 1)">4</text>
<text class="an" transform="translate(651 1305.1) scale(0.9 1)">73.10</text>
<text class="an" transform="translate(762.4 1332.9) rotate(90) scale(0.9 1)">68.27</text>
<text class="an" transform="translate(651 1206.4) scale(0.9 1)">96.80</text>
<text class="an" transform="translate(880.7 1332.9) rotate(90) scale(0.9 1)">95.45</text>
<text class="an" transform="translate(651 1136.6) scale(0.9 1)">99.60</text>
<text class="an" transform="translate(998.9 1332.9) rotate(90) scale(0.9 1)">99.73</text>
<text class="pt i" transform="translate(818.3 1082.1) scale(1.06 1)">N</text>
<text class="ax" text-anchor="middle" textLength="251.4" lengthAdjust="spacingAndGlyphs" transform="translate(606 1224.6) rotate(-90)">Empirical coverage <tspan class="br" dy="2.6">[</tspan><tspan class="i" dy="-2.6">z</tspan><tspan class="i sb" dy="5">p</tspan><tspan class="br" dy="-2.4">]</tspan></text>
</g>
<g id="p10">
<clipPath id="c10"><rect x="1112.1" y="1034.5" width="413.8" height="380.2"/></clipPath>
<g clip-path="url(#c10)">
<polygon class="band" points="1112.1,1414.7 1144,1388.6 1162.7,1374 1171.3,1368.9 1193.7,1351.1 1218.5,1332.2 1230.3,1325.9 1238.2,1319.5 1255.6,1309.3 1280.5,1290.2 1297.7,1278.6 1315.1,1265.9 1322.5,1256.9 1332.5,1249.2 1342.4,1243.3 1348.6,1241.4 1356.8,1231.1 1373,1222.2 1390.1,1207.9 1399.2,1206.2 1408.4,1196.5 1415.8,1183.4 1424.4,1177.1 1432.4,1167.4 1440.9,1156.5 1449.5,1145.1 1458.6,1137.1 1466.9,1133.7 1475.2,1126.2 1517.5,1126.2 1525.8,1116 1525.8,1149.7 1517.5,1156.5 1475.2,1156.5 1466.9,1160.5 1458.6,1161.7 1450.7,1165.6 1442.7,1175.9 1433.5,1184.5 1424.4,1192.5 1416.4,1198.8 1408.4,1211.3 1399.2,1219.3 1390.1,1220.5 1376.4,1234 1356.8,1240.9 1348.6,1250.8 1342.4,1252.2 1332.5,1257.6 1322.5,1264.8 1315.1,1273.3 1297.7,1285.3 1280.5,1296.1 1255.6,1314.2 1238.2,1323.7 1230.3,1329.9 1218.5,1336 1193.7,1354.1 1171.3,1371.1 1162.7,1376 1144,1389.8 1112.1,1414.7"/>
<polyline class="bl" points="1112.1,1414.7 1144,1389.2 1162.7,1375 1171.3,1370 1193.7,1352.6 1218.5,1334.1 1230.3,1327.9 1238.2,1321.6 1255.6,1311.8 1280.5,1293.1 1297.7,1281.9 1315.1,1269.6 1322.5,1260.8 1332.5,1253.4 1342.4,1247.8 1348.6,1246.1 1356.8,1236 1362.7,1234 1373,1227.9 1390.1,1213.6 1399.2,1212.5 1408.4,1203.3 1415.8,1190.8 1424.4,1185.1 1432.4,1175.9 1440.9,1166.2 1449.5,1153.1 1458.6,1147.9 1466.9,1147.9 1475.2,1141.1 1518.1,1141.1 1525.8,1133.7"/>
<path class="gd" d="M1112.1 1414.7L1525.9 1082"/>
<path class="rd" d="M1112.1 1327.9H1230.3M1230.3 1414.7V1327.9"/>
<path class="rd" d="M1112.1 1246H1348.6M1348.6 1414.7V1246"/>
<path class="rd" d="M1112.1 1147.9H1466.8M1466.8 1414.7V1147.9"/>
</g>
<rect class="sp" x="1112.1" y="1034.5" width="413.8" height="380.2"/>
<path class="t" d="M1112.1 1414.7v6.6M1112.1 1034.5v-6.6M1230.3 1414.7v6.6M1230.3 1034.5v-6.6M1348.6 1414.7v6.6M1348.6 1034.5v-6.6M1466.8 1414.7v6.6M1466.8 1034.5v-6.6M1112.1 1414.7h-6.6M1525.9 1414.7h6.6M1112.1 1319.7h-6.6M1525.9 1319.7h6.6M1112.1 1224.6h-6.6M1525.9 1224.6h6.6M1112.1 1129.6h-6.6M1525.9 1129.6h6.6M1112.1 1034.5h-6.6M1525.9 1034.5h6.6"/>
<text class="tk" text-anchor="middle" transform="translate(1112.1 1443.9) scale(0.9 1)">0</text>
<text class="tk" text-anchor="middle" transform="translate(1230.3 1443.9) scale(0.9 1)">1</text>
<text class="tk" text-anchor="middle" transform="translate(1348.6 1443.9) scale(0.9 1)">2</text>
<text class="tk" text-anchor="middle" transform="translate(1466.8 1443.9) scale(0.9 1)">3</text>
<text class="tk" text-anchor="end" transform="translate(1102.1 1424.6) scale(0.9 1)">0</text>
<text class="tk" text-anchor="end" transform="translate(1102.1 1329.6) scale(0.9 1)">1</text>
<text class="tk" text-anchor="end" transform="translate(1102.1 1234.5) scale(0.9 1)">2</text>
<text class="tk" text-anchor="end" transform="translate(1102.1 1139.5) scale(0.9 1)">3</text>
<text class="tk" text-anchor="end" transform="translate(1102.1 1044.4) scale(0.9 1)">4</text>
<text class="an" transform="translate(1124.1 1323.4) scale(0.9 1)">63.90</text>
<text class="an" transform="translate(1235.5 1332.9) rotate(90) scale(0.9 1)">68.27</text>
<text class="an" transform="translate(1124.1 1241.5) scale(0.9 1)">92.40</text>
<text class="an" transform="translate(1353.8 1332.9) rotate(90) scale(0.9 1)">95.45</text>
<text class="an" transform="translate(1124.1 1143.4) scale(0.9 1)">99.50</text>
<text class="an" transform="translate(1472 1332.9) rotate(90) scale(0.9 1)">99.73</text>
<text class="pt i" transform="translate(1291.4 1082.1) scale(1.06 1)">μ</text>
</g>
<g id="p11">
<clipPath id="c11"><rect x="639" y="1485.7" width="413.8" height="380.2"/></clipPath>
<g clip-path="url(#c11)">
<polygon class="band" points="639,1865.9 664.9,1842.4 695.9,1815.7 705.8,1804.9 714.4,1799.3 733.1,1782.9 745.4,1774.6 757.2,1763.7 774,1748.7 792.6,1735.2 807.5,1721.1 823.6,1711.4 832.2,1700.5 842.4,1691.3 847.4,1685 858.9,1674.9 874.8,1668.1 883.4,1653.2 892,1650.3 900,1650.3 909.1,1642.4 917.7,1632.6 926.2,1616.6 934.2,1606.9 942.8,1597.8 951.4,1585.8 959.9,1576.7 968.5,1553.8 976.5,1530.2 1001.6,1530.2 1001.6,1485.5 1052.8,1485.5 1052.8,1552.7 1011.4,1552.7 1007.4,1565.2 1002.8,1579.5 976.5,1579.5 968.5,1590.4 960.5,1605.2 952.5,1608.7 943.4,1617.8 934.2,1625.8 926.2,1634.9 918.3,1649.8 909.1,1656.6 900,1664.1 892,1664.1 883.4,1666.9 876,1677.8 863.4,1685 842.4,1700.2 832.2,1708.7 823.6,1718.9 807.5,1727.8 792.6,1741.1 774,1753.6 757.2,1768.1 745.4,1778.5 733.1,1786.4 714.4,1802.3 705.8,1807.7 695.9,1818 664.9,1843.6 639,1865.9"/>
<polyline class="bl" points="639,1865.9 664.9,1843 695.9,1816.9 705.8,1806.3 714.4,1800.8 733.1,1784.6 745.4,1776.6 757.2,1765.9 774,1751.2 792.6,1738.2 807.5,1724.5 823.6,1715.2 832.2,1704.6 842.4,1695.8 852,1685 858.9,1680 874.8,1673.8 883.4,1659.5 892,1657.2 900,1657.2 909.1,1649.2 917.7,1640.6 926.2,1625.8 934.2,1616.6 942.8,1608.1 951.4,1597.8 959.9,1592.1 968.5,1572.1 976.5,1553.2 1003.9,1553.2"/>
<path class="gd" d="M639 1865.9L1052.8 1533.2"/>
<path class="rd" d="M639 1765.9H757.2M757.2 1865.9V1765.9"/>
<path class="rd" d="M639 1671.7H875.5M875.5 1865.9V1671.7"/>
<path class="rd" d="M639 1553.1H993.7M993.7 1865.9V1553.1"/>
</g>
<rect class="sp" x="639" y="1485.7" width="413.8" height="380.2"/>
<path class="t" d="M639 1865.9v6.6M639 1485.7v-6.6M757.2 1865.9v6.6M757.2 1485.7v-6.6M875.5 1865.9v6.6M875.5 1485.7v-6.6M993.7 1865.9v6.6M993.7 1485.7v-6.6M639 1865.9h-6.6M1052.8 1865.9h6.6M639 1770.9h-6.6M1052.8 1770.9h6.6M639 1675.8h-6.6M1052.8 1675.8h6.6M639 1580.8h-6.6M1052.8 1580.8h6.6M639 1485.7h-6.6M1052.8 1485.7h6.6"/>
<text class="tk" text-anchor="middle" transform="translate(639 1895.1) scale(0.9 1)">0</text>
<text class="tk" text-anchor="middle" transform="translate(757.2 1895.1) scale(0.9 1)">1</text>
<text class="tk" text-anchor="middle" transform="translate(875.5 1895.1) scale(0.9 1)">2</text>
<text class="tk" text-anchor="middle" transform="translate(993.7 1895.1) scale(0.9 1)">3</text>
<text class="tk" text-anchor="end" transform="translate(629 1875.8) scale(0.9 1)">0</text>
<text class="tk" text-anchor="end" transform="translate(629 1780.8) scale(0.9 1)">1</text>
<text class="tk" text-anchor="end" transform="translate(629 1685.7) scale(0.9 1)">2</text>
<text class="tk" text-anchor="end" transform="translate(629 1590.7) scale(0.9 1)">3</text>
<text class="tk" text-anchor="end" transform="translate(629 1495.6) scale(0.9 1)">4</text>
<text class="an" transform="translate(651 1761.4) scale(0.9 1)">70.70</text>
<text class="an" transform="translate(762.4 1784.1) rotate(90) scale(0.9 1)">68.27</text>
<text class="an" transform="translate(651 1667.2) scale(0.9 1)">95.90</text>
<text class="an" transform="translate(880.7 1784.1) rotate(90) scale(0.9 1)">95.45</text>
<text class="an" transform="translate(651 1548.6) scale(0.9 1)">99.90</text>
<text class="an" transform="translate(998.9 1784.1) rotate(90) scale(0.9 1)">99.73</text>
<text class="pt i" transform="translate(818.3 1533.3) scale(1.06 1)">σ</text>
<text class="ax" text-anchor="middle" textLength="251.4" lengthAdjust="spacingAndGlyphs" transform="translate(606 1675.8) rotate(-90)">Empirical coverage <tspan class="br" dy="2.6">[</tspan><tspan class="i" dy="-2.6">z</tspan><tspan class="i sb" dy="5">p</tspan><tspan class="br" dy="-2.4">]</tspan></text>
<text class="ax" text-anchor="middle" textLength="257.6" lengthAdjust="spacingAndGlyphs" x="845.9" y="1923.5">Nominal credibility <tspan class="br" dy="2.6">[</tspan><tspan class="i" dy="-2.6">z</tspan><tspan class="i sb" dy="5">p</tspan><tspan class="br" dy="-2.4">]</tspan></text>
</g>
<g id="p12">
<clipPath id="c12"><rect x="1112.1" y="1485.7" width="413.8" height="380.2"/></clipPath>
<g clip-path="url(#c12)">
<polygon class="band" points="1112.1,1865.9 1137.9,1841 1162.7,1818.4 1180,1804.9 1193.7,1789.9 1213.5,1773.3 1222.2,1764.6 1230.3,1758.2 1238.2,1749.3 1249.5,1742.8 1264.3,1728.8 1280.5,1716.1 1289.1,1707.1 1297.7,1695.7 1311.4,1684 1317,1679.5 1322.7,1674.3 1331.9,1661.8 1339.8,1650.9 1347.8,1636.1 1356.4,1624.6 1365,1615.5 1373,1597.8 1382.1,1597.8 1390.1,1578.4 1399.2,1567.5 1407.8,1567.5 1415.8,1553.8 1425,1553.8 1432.9,1530.2 1449.5,1530.2 1449.5,1485.5 1525.8,1485.5 1525.8,1552.7 1458.6,1552.7 1455.2,1565.2 1450.7,1579.5 1432.9,1579.5 1425,1592.1 1415.8,1592.7 1407.8,1600.7 1399.2,1600.7 1390.7,1608.1 1382.1,1621.8 1373,1621.8 1365,1633.2 1356.4,1640.1 1347.8,1649.8 1339.8,1664.1 1331.9,1674.3 1323.9,1685 1311.4,1692.9 1297.7,1703.6 1289.1,1714.5 1280.5,1723 1264.3,1735 1249.5,1748.3 1238.2,1754.2 1230.3,1762.6 1222.2,1768.8 1213.5,1777.3 1193.7,1793.1 1180,1807.7 1162.7,1820.4 1137.9,1842.3 1112.1,1865.9"/>
<polyline class="bl" points="1112.1,1865.9 1137.9,1841.7 1162.7,1819.4 1180,1806.3 1193.7,1791.5 1213.5,1775.3 1222.2,1766.7 1230.3,1760.4 1238.2,1751.7 1249.5,1745.6 1264.3,1731.9 1280.5,1719.5 1289.1,1710.8 1297.7,1699.7 1311.4,1688.4 1317,1685 1322.7,1680 1331.9,1668.1 1339.8,1657.2 1347.8,1642.4 1356.4,1632.1 1365,1624.1 1373,1609.8 1382.1,1609.8 1390.1,1592.1 1399.2,1583.5 1407.8,1583.5 1415.8,1572.1 1424.4,1572.1 1432.9,1553.2 1451.8,1553.2"/>
<path class="gd" d="M1112.1 1865.9L1525.9 1533.2"/>
<path class="rd" d="M1112.1 1760.4H1230.3M1230.3 1865.9V1760.4"/>
<path class="rd" d="M1112.1 1643H1348.6M1348.6 1865.9V1643"/>
</g>
<rect class="sp" x="1112.1" y="1485.7" width="413.8" height="380.2"/>
<path class="t" d="M1112.1 1865.9v6.6M1112.1 1485.7v-6.6M1230.3 1865.9v6.6M1230.3 1485.7v-6.6M1348.6 1865.9v6.6M1348.6 1485.7v-6.6M1466.8 1865.9v6.6M1466.8 1485.7v-6.6M1112.1 1865.9h-6.6M1525.9 1865.9h6.6M1112.1 1770.9h-6.6M1525.9 1770.9h6.6M1112.1 1675.8h-6.6M1525.9 1675.8h6.6M1112.1 1580.8h-6.6M1525.9 1580.8h6.6M1112.1 1485.7h-6.6M1525.9 1485.7h6.6"/>
<text class="tk" text-anchor="middle" transform="translate(1112.1 1895.1) scale(0.9 1)">0</text>
<text class="tk" text-anchor="middle" transform="translate(1230.3 1895.1) scale(0.9 1)">1</text>
<text class="tk" text-anchor="middle" transform="translate(1348.6 1895.1) scale(0.9 1)">2</text>
<text class="tk" text-anchor="middle" transform="translate(1466.8 1895.1) scale(0.9 1)">3</text>
<text class="tk" text-anchor="end" transform="translate(1102.1 1875.8) scale(0.9 1)">0</text>
<text class="tk" text-anchor="end" transform="translate(1102.1 1780.8) scale(0.9 1)">1</text>
<text class="tk" text-anchor="end" transform="translate(1102.1 1685.7) scale(0.9 1)">2</text>
<text class="tk" text-anchor="end" transform="translate(1102.1 1590.7) scale(0.9 1)">3</text>
<text class="tk" text-anchor="end" transform="translate(1102.1 1495.6) scale(0.9 1)">4</text>
<text class="an" transform="translate(1124.1 1755.9) scale(0.9 1)">73.30</text>
<text class="an" transform="translate(1235.5 1784.1) rotate(90) scale(0.9 1)">68.27</text>
<text class="an" transform="translate(1124.1 1638.5) scale(0.9 1)">98.10</text>
<text class="an" transform="translate(1353.8 1784.1) rotate(90) scale(0.9 1)">95.45</text>
<text class="pt" transform="translate(1291.4 1533.3) scale(1.06 1)"><tspan class="i">S</tspan><tspan class="sb2" dy="4.8">th,</tspan><tspan class="inf" dy="2.5">∞</tspan></text>
<text class="ax" text-anchor="middle" textLength="257.6" lengthAdjust="spacingAndGlyphs" x="1319" y="1923.5">Nominal credibility <tspan class="br" dy="2.6">[</tspan><tspan class="i" dy="-2.6">z</tspan><tspan class="i sb" dy="5">p</tspan><tspan class="br" dy="-2.4">]</tspan></text>
</g>
</svg></body></html>
